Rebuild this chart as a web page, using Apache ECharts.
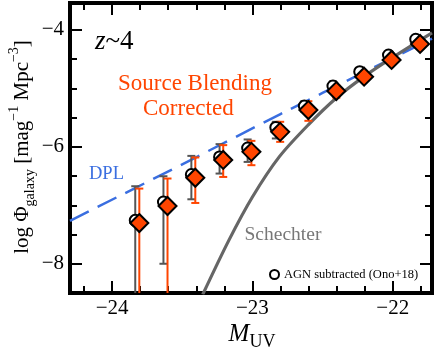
<!DOCTYPE html>
<html>
<head>
<meta charset="utf-8">
<script src="https://cdn.jsdelivr.net/npm/echarts@6/dist/echarts.min.js"></script>
<style>
  html, body { margin: 0; padding: 0; background: #fff; }
  #chart-lf { width: 436px; height: 347px; }
</style>
</head>
<body>
<div id="chart-lf"></div>
<script>
// tick positions
const xMajor = [-24, -23, -22];
const xMinor = [-24.2, -23.8, -23.6, -23.4, -23.2, -22.8, -22.6, -22.4, -22.2, -21.8];
const yMajor = [-8, -6, -4];
const yMinor = [-7.5, -7, -6.5, -5.5, -5, -4.5];

// source blending corrected points (diamonds)
const galM  = [-23.806, -23.605, -23.407, -23.208, -23.007, -22.802, -22.601, -22.402, -22.204, -22.008, -21.805];
const galPhi = [-7.304, -7.012, -6.529, -6.224, -6.086, -5.744, -5.371, -5.046, -4.80, -4.514, -4.24];
const galLo = [-9, -9, -6.96, -6.515, -6.314, -5.915, -5.555, -5.16, -4.88, -4.58, -4.30];
const galHi = [-6.714, -6.542, -6.182, -5.971, -5.898, -5.572, -5.22, -4.95, -4.73, -4.46, -4.19];

// AGN subtracted (Ono+18) points (open circles)
const agnM  = [-23.835, -23.634, -23.435, -23.234, -23.034, -22.833, -22.63, -22.426, -22.235, -22.03, -21.836];
const agnPhi = [-7.257, -6.944, -6.474, -6.172, -6.02, -5.668, -5.303, -4.96, -4.715, -4.429, -4.16];
const agnLo = [-9, -8.0, -6.897, -6.457, -6.258, -5.857, -5.40, -5.05, -4.78, -4.49, -4.21];
const agnHi = [-6.674, -6.503, -6.155, -5.954, -5.874, -5.572, -5.22, -4.88, -4.66, -4.38, -4.12];

// model curves
const dplM   = [-24.3, -23.5, -22.8, -22.2, -21.72];
const dplPhi = [-7.265, -6.299, -5.44, -4.72, -4.15];
const schM   = [-23.354, -23.168, -23.0, -22.809, -22.6, -22.4, -22.2, -22.0, -21.72];
const schPhi = [-8.526, -7.60, -6.858, -6.172, -5.62, -5.16, -4.79, -4.47, -4.05];

const SERIF = '"Liberation Serif", "DejaVu Serif", serif';
const ORANGE = '#ff4500';
const minus = v => String(v).replace('-', '\u2212');

function zip(a, b) { return a.map((v, i) => [v, b[i]]); }

function errBars(color) {
    return function (params, api) {
        const cs = params.coordSys;
        const x = api.coord([api.value(0), api.value(1)])[0];
        let yLo = api.coord([api.value(0), api.value(1)])[1];
        let yHi = api.coord([api.value(0), api.value(2)])[1];
        const bottom = cs.y + cs.height, top = cs.y;
        const style = { stroke: color, lineWidth: 2 };
        const kids = [];
        const loIn = yLo <= bottom, hiIn = yHi >= top;
        kids.push({ type: 'line', shape: { x1: x, y1: Math.min(yLo, bottom), x2: x, y2: Math.max(yHi, top) }, style: style });
        if (loIn) kids.push({ type: 'line', shape: { x1: x - 4, y1: yLo, x2: x + 4, y2: yLo }, style: style });
        if (hiIn) kids.push({ type: 'line', shape: { x1: x - 4, y1: yHi, x2: x + 4, y2: yHi }, style: style });
        return { type: 'group', children: kids };
    };
}

function xAxisDef(pos, ticks, len, line, label) {
    return {
        type: 'value', position: pos, min: -24.3, max: -21.72,
        axisLine: { show: line, onZero: false, lineStyle: { color: '#000', width: 4, cap: 'square' } },
        axisTick: { show: true, inside: true, length: len, customValues: ticks, lineStyle: { color: '#000', width: 2 } },
        axisLabel: label ? { customValues: ticks, formatter: minus, fontSize: 21, fontFamily: SERIF, color: '#000', margin: 5 } : { show: false },
        splitLine: { show: false }
    };
}
function yAxisDef(pos, ticks, len, line, label) {
    return {
        type: 'value', position: pos, min: -8.5, max: -3.54,
        axisLine: { show: line, onZero: false, lineStyle: { color: '#000', width: 4, cap: 'square' } },
        axisTick: { show: true, inside: true, length: len, customValues: ticks, lineStyle: { color: '#000', width: 2 } },
        axisLabel: label ? { customValues: ticks, formatter: minus, fontSize: 21, fontFamily: SERIF, color: '#000', margin: 6 } : { show: false },
        splitLine: { show: false }
    };
}

let myChart = echarts.init(document.getElementById('chart-lf'));

let option = {
    animation: false,
    grid: { left: 70, right: 4, top: 3, bottom: 54 },
    xAxis: [
        xAxisDef('bottom', xMajor, 12, true, true),
        xAxisDef('bottom', xMinor, 7, false, false),
        xAxisDef('top', xMajor, 12, true, false),
        xAxisDef('top', xMinor, 7, false, false)
    ],
    yAxis: [
        yAxisDef('left', yMajor, 12, true, true),
        yAxisDef('left', yMinor, 7, false, false),
        yAxisDef('right', yMajor, 12, true, false),
        yAxisDef('right', yMinor, 7, false, false)
    ],
    legend: {
        data: ['AGN subtracted (Ono+18)'],
        left: 264, top: 263, icon: 'circle', itemWidth: 9, itemHeight: 9, itemGap: 5,
        textStyle: { fontSize: 12.5, fontFamily: SERIF, color: '#000', padding: [0, 0, 0, 0] }
    },
    graphic: [
        { type: 'text', x: 22, y: 147, rotation: Math.PI / 2, style: {
            text: '{a|log \u03A6}{s|galaxy}{a| [mag}{p|\u22121}{a| Mpc}{p|\u22123}{a|]}',
            align: 'center', verticalAlign: 'middle',
            rich: {
                a: { fontSize: 21, fontFamily: SERIF, color: '#000', lineHeight: 30, verticalAlign: 'middle' },
                s: { fontSize: 14, fontFamily: SERIF, color: '#000', lineHeight: 14, verticalAlign: 'bottom' },
                p: { fontSize: 14, fontFamily: SERIF, color: '#000', lineHeight: 14, verticalAlign: 'top' }
            }
        } },
        { type: 'text', x: 252, y: 334, style: {
            text: '{m|M}{s|UV}', align: 'center', verticalAlign: 'middle',
            rich: {
                m: { fontSize: 25, fontFamily: SERIF, fontStyle: 'italic', color: '#000', lineHeight: 34, verticalAlign: 'middle' },
                s: { fontSize: 18, fontFamily: SERIF, color: '#000', lineHeight: 18, verticalAlign: 'bottom' }
            }
        } },
        { type: 'text', x: 95, y: 42, style: {
            text: '{i|z}{n|~4}', verticalAlign: 'middle',
            rich: {
                i: { fontSize: 27, fontFamily: SERIF, fontStyle: 'italic', color: '#000' },
                n: { fontSize: 27, fontFamily: SERIF, color: '#000' }
            }
        } },
        { type: 'text', x: 118, y: 83.5, style: { text: 'Source Blending', fontSize: 23, fontFamily: SERIF, fill: ORANGE, verticalAlign: 'middle' } },
        { type: 'text', x: 143, y: 108.5, style: { text: 'Corrected', fontSize: 23, fontFamily: SERIF, fill: ORANGE, verticalAlign: 'middle' } },
        { type: 'text', x: 89, y: 174.5, style: { text: 'DPL', fontSize: 18.5, fontFamily: SERIF, fill: '#3a6ee0', verticalAlign: 'middle' } },
        { type: 'text', x: 244.5, y: 235, style: { text: 'Schechter', fontSize: 19.5, fontFamily: SERIF, fill: '#777', verticalAlign: 'middle' } }
    ],
    series: [
        {
            name: 'DPL', type: 'line', data: zip(dplM, dplPhi), smooth: 0.3, symbol: 'none', z: 1,
            lineStyle: { color: '#3a6ee0', width: 2.5, type: [21, 10] }
        },
        {
            name: 'Schechter', type: 'line', data: zip(schM, schPhi), smooth: 0.3, symbol: 'none', z: 1,
            lineStyle: { color: '#666', width: 3.2 }
        },
        {
            type: 'custom', renderItem: errBars('#555'), z: 2,
            data: agnM.map((m, i) => [m, agnLo[i], agnHi[i]]), encode: { x: 0, y: [1, 2] }
        },
        {
            type: 'custom', renderItem: errBars(ORANGE), z: 2,
            data: galM.map((m, i) => [m, galLo[i], galHi[i]]), encode: { x: 0, y: [1, 2] }
        },
        {
            name: 'AGN subtracted (Ono+18)', type: 'scatter', data: zip(agnM, agnPhi), symbol: 'circle', symbolSize: 11, z: 3,
            itemStyle: { color: '#fff', borderColor: '#000', borderWidth: 2, opacity: 1 }
        },
        {
            name: 'Source Blending Corrected', type: 'scatter', data: zip(galM, galPhi), symbol: 'diamond', symbolSize: [18, 18], z: 4,
            itemStyle: { color: ORANGE, borderColor: '#000', borderWidth: 2, opacity: 1 }
        }
    ]
};

myChart.setOption(option);
</script>
</body>
</html>
